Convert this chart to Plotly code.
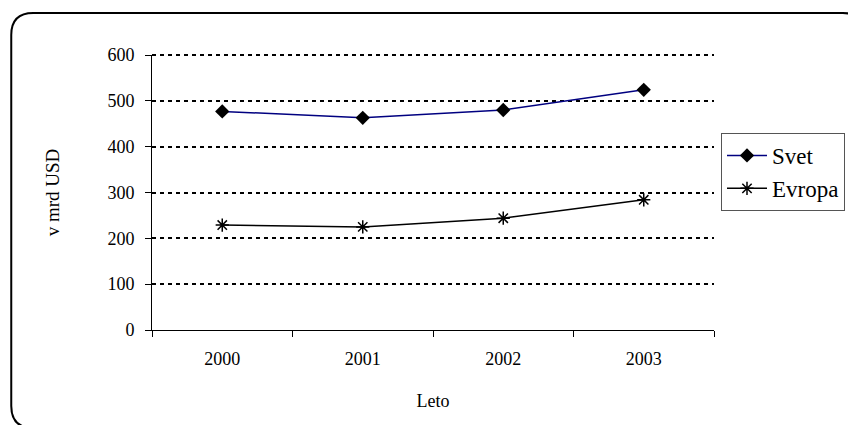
import plotly.graph_objects as go

years = ["2000", "2001", "2002", "2003"]
svet = [477, 463, 480, 524]
evropa = [229, 225, 244, 284]
y_ticks = [0, 100, 200, 300, 400, 500, 600]

OFF = 8  # page body margin
W, H = 856 - OFF, 425 - OFF
L, R, T, B = 152 - OFF, 715 - OFF, 55 - OFF, 330 - OFF
pw, ph = R - L, B - T

def px(x):
    return (x - OFF - L) / pw

def py(y):
    return (B - (y - OFF)) / ph

font = "Liberation Serif"

fig = go.Figure()
fig.add_trace(go.Scatter(
    x=years, y=svet, name="Svet", mode="lines+markers",
    line=dict(color="#000080", width=1.5),
    marker=dict(symbol="diamond", size=11, color="black"),
))
fig.add_trace(go.Scatter(
    x=years, y=evropa, name="Evropa", mode="lines+markers",
    line=dict(color="black", width=1.5),
    marker=dict(symbol="asterisk-open", size=11, color="black",
                line=dict(color="black", width=1.5)),
))

# rounded chart border (page pixel coords)
x0, x1 = 11, 866
y0, y1 = 13, 428
r = 22
rx = r / pw
ry = r / ph
X0, X1 = px(x0), px(x1)
Y0, Y1 = py(y0), py(y1)
path = (f"M {X0+rx},{Y0} L {X1-rx},{Y0} Q {X1},{Y0} {X1},{Y0-ry} "
        f"L {X1},{Y1+ry} Q {X1},{Y1} {X1-rx},{Y1} "
        f"L {X0+rx},{Y1} Q {X0},{Y1} {X0},{Y1+ry} "
        f"L {X0},{Y0-ry} Q {X0},{Y0} {X0+rx},{Y0} Z")
fig.add_shape(type="path", path=path, xref="paper", yref="paper",
              line=dict(color="black", width=2), layer="below")

# top gridline at the range end (plotly drops edge gridlines)
fig.add_shape(type="line", xref="paper", yref="paper", x0=0, x1=1,
              y0=1, y1=1,
              line=dict(color="black", width=2, dash="4px,4px"), layer="below")

fig.update_layout(
    width=W, height=H,
    margin=dict(l=L, r=W - R, t=T, b=H - B),
    paper_bgcolor="white", plot_bgcolor="white",
    font=dict(family=font, size=18, color="black"),
    showlegend=True,
    legend=dict(
        x=px(721), y=py(133), xanchor="left", yanchor="top",
        bordercolor="#555555", borderwidth=1, bgcolor="white",
        font=dict(family=font, size=23), tracegroupgap=0,
        itemwidth=40,
    ),
    xaxis=dict(
        type="category", range=[-0.5, 3.5], tickson="boundaries",
        ticks="outside", ticklen=6, tickcolor="black",
        showline=True, linecolor="black", linewidth=1,
        showgrid=False, zeroline=False, ticklabelstandoff=12,
        title=dict(text="Leto", font=dict(family=font, size=18), standoff=26),
        tickfont=dict(family=font, size=18),
    ),
    yaxis=dict(
        range=[0, 600], tickvals=y_ticks,
        ticks="outside", ticklen=6, tickcolor="black",
        showline=True, linecolor="black", linewidth=1,
        showgrid=True, gridcolor="black", gridwidth=2, griddash="4px,4px",
        zeroline=False, ticklabelstandoff=7,
        title=dict(text="v mrd USD", font=dict(family=font, size=19), standoff=42),
        tickfont=dict(family=font, size=18),
    ),
)

fig.write_html("out.html")
